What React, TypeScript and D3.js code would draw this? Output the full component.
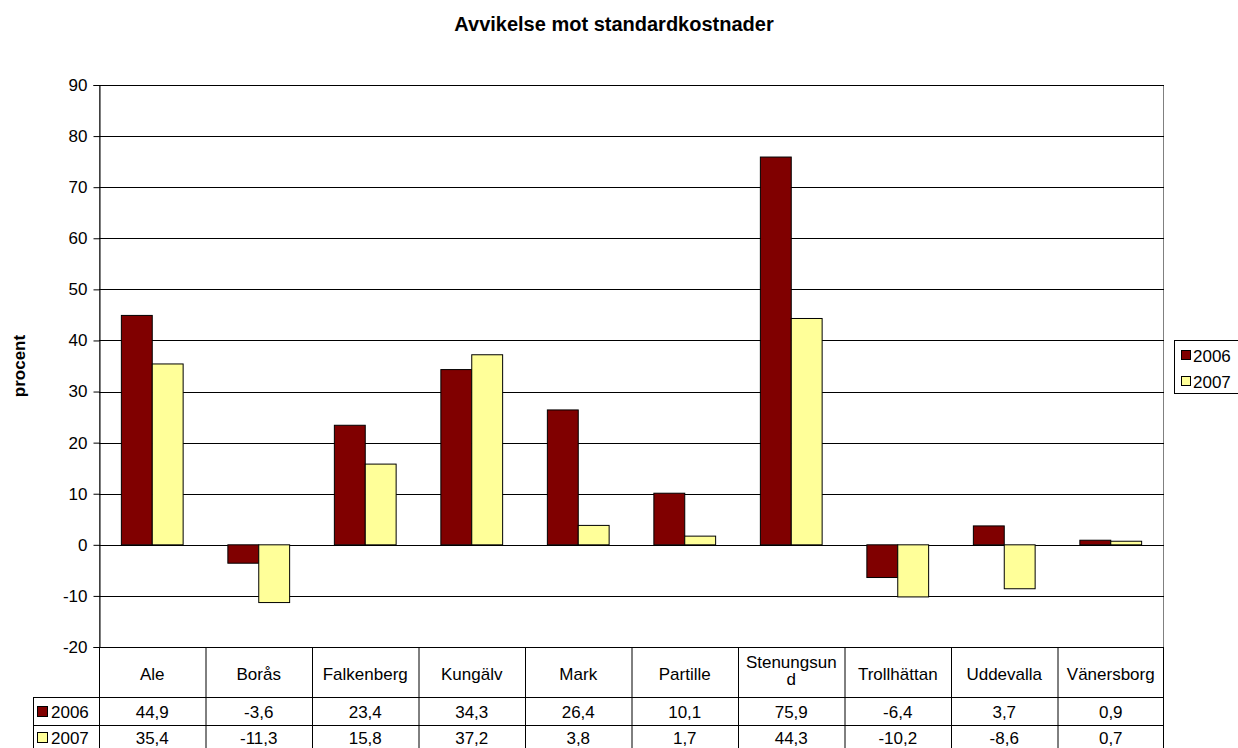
import { useEffect, useRef } from 'react';
import * as d3 from 'd3';

const categories = ['Ale', 'Borås', 'Falkenberg', 'Kungälv', 'Mark', 'Partille', 'Stenungsund', 'Trollhättan', 'Uddevalla', 'Vänersborg'];
const series = ['2006', '2007'];
const values2006 = [44.9, -3.6, 23.4, 34.3, 26.4, 10.1, 75.9, -6.4, 3.7, 0.9];
const values2007 = [35.4, -11.3, 15.8, 37.2, 3.8, 1.7, 44.3, -10.2, -8.6, 0.7];
const colors = ['#800000', '#ffff99'];
const yTicks = [-20, -10, 0, 10, 20, 30, 40, 50, 60, 70, 80, 90];

const fmt = (v: number) => v.toFixed(1).replace('.', ',');

export default function App() {
    const svgRef = useRef<SVGSVGElement>(null);

    useEffect(() => {
        if (!svgRef.current) return;
        const W = 1238, H = 748;
        const left = 99, right = 1164, top = 85, bottom = 647;
        const font = 'Liberation Sans, Arial, sans-serif';
        const fs = 17;

        const svg = d3.select(svgRef.current);
        svg.selectAll('*').remove();
        svg.append('rect').attr('width', W).attr('height', H).attr('fill', '#fff');

        const x = d3.scaleBand().domain(categories).range([left, right]);
        const y = d3.scaleLinear().domain([-20, 90]).range([bottom, top]);
        const bw = x.bandwidth() * 0.29;
        const gap = (x.bandwidth() - 2 * bw) / 2;

        // Title
        svg.append('text').attr('x', 614).attr('y', 31)
            .attr('text-anchor', 'middle').attr('font-family', font)
            .attr('font-size', 20).attr('font-weight', 'bold')
            .text('Avvikelse mot standardkostnader');

        // Y label
        svg.append('text').attr('transform', `translate(25,366) rotate(-90)`)
            .attr('text-anchor', 'middle').attr('font-family', font)
            .attr('font-size', fs).attr('font-weight', 'bold')
            .text('procent');

        // Plot border
        svg.append('rect').attr('x', left + 0.5).attr('y', top + 0.5)
            .attr('width', right - left - 1).attr('height', bottom - top)
            .attr('fill', 'none').attr('stroke', '#808080');

        // Gridlines
        svg.selectAll('.grid')
            .data(yTicks.filter(t => t > -20))
            .join('line')
            .attr('x1', left).attr('x2', right)
            .attr('y1', d => Math.round(y(d)) + 0.5).attr('y2', d => Math.round(y(d)) + 0.5)
            .attr('stroke', '#000').attr('stroke-width', 1);

        // Bars
        const vals = [values2006, values2007];
        vals.forEach((arr, si) => {
            svg.selectAll(`.bar-${si}`)
                .data(arr)
                .join('rect')
                .attr('x', (_, i) => x(categories[i])! + gap + si * bw)
                .attr('y', d => y(Math.max(0, d)))
                .attr('width', bw)
                .attr('height', d => Math.abs(y(d) - y(0)))
                .attr('fill', colors[si]).attr('stroke', '#000').attr('stroke-width', 1);
        });

        // Y axis
        const yAxis = svg.append('g').attr('transform', `translate(${left + 0.5},0)`)
            .call(d3.axisLeft(y).tickValues(yTicks).tickSize(6).tickFormat(d => String(d)));
        yAxis.select('.domain').attr('stroke', '#000');
        yAxis.selectAll('text').attr('font-family', font).attr('font-size', fs).attr('fill', '#000').attr('dx', '-3');

        // Data table
        const rowTop = bottom, headerBot = 697, row1Bot = 725, row2Bot = 752;
        const tableLeft = 33;
        const tg = svg.append('g').attr('stroke', '#000').attr('stroke-width', 1);
        x.domain().forEach(c => {
            tg.append('line').attr('x1', x(c)! + 0.5).attr('x2', x(c)! + 0.5).attr('y1', rowTop).attr('y2', row2Bot);
        });
        tg.append('line').attr('x1', right - 0.5).attr('x2', right - 0.5).attr('y1', rowTop).attr('y2', row2Bot);
        tg.append('line').attr('x1', tableLeft).attr('x2', right).attr('y1', headerBot + 0.5).attr('y2', headerBot + 0.5);
        tg.append('line').attr('x1', tableLeft).attr('x2', right).attr('y1', row1Bot + 0.5).attr('y2', row1Bot + 0.5);
        tg.append('line').attr('x1', tableLeft + 0.5).attr('x2', tableLeft + 0.5).attr('y1', headerBot).attr('y2', row2Bot);
        tg.append('line').attr('x1', left).attr('x2', right).attr('y1', bottom + 0.5).attr('y2', bottom + 0.5);

        // Header labels
        categories.forEach(c => {
            const cx = x(c)! + x.bandwidth() / 2;
            const t = svg.append('text').attr('text-anchor', 'middle').attr('font-family', font).attr('font-size', fs);
            if (c === 'Stenungsund') {
                t.append('tspan').attr('x', cx).attr('y', 668).text('Stenungsun');
                t.append('tspan').attr('x', cx).attr('y', 685).text('d');
            } else {
                t.attr('x', cx).attr('y', 680).text(c);
            }
        });

        // Rows
        const rowYs = [718, 744];
        vals.forEach((arr, si) => {
            svg.append('rect').attr('x', 37.5).attr('y', rowYs[si] - 11.5).attr('width', 10).attr('height', 10)
                .attr('fill', colors[si]).attr('stroke', '#000');
            svg.append('text').attr('x', 51).attr('y', rowYs[si]).attr('font-family', font).attr('font-size', fs).text(series[si]);
            svg.selectAll(`.cell-${si}`)
                .data(arr)
                .join('text')
                .attr('x', (_, i) => x(categories[i])! + x.bandwidth() / 2)
                .attr('y', rowYs[si])
                .attr('text-anchor', 'middle').attr('font-family', font).attr('font-size', fs)
                .text(d => fmt(d));
        });

        // Legend
        const leg = svg.append('g').attr('transform', 'translate(1174.5,340.5)');
        leg.append('rect').attr('width', 80).attr('height', 53).attr('fill', '#fff').attr('stroke', '#000');
        series.forEach((s, i) => {
            leg.append('rect').attr('x', 7).attr('y', 10 + i * 26).attr('width', 9).attr('height', 9)
                .attr('fill', colors[i]).attr('stroke', '#000');
            leg.append('text').attr('x', 18.5).attr('y', 21.5 + i * 26).attr('font-family', font).attr('font-size', fs).text(s);
        });
    }, []);

    return <svg ref={svgRef} width={1238} height={748} style={{ position: 'absolute', left: 0, top: 0 }} />;
}
